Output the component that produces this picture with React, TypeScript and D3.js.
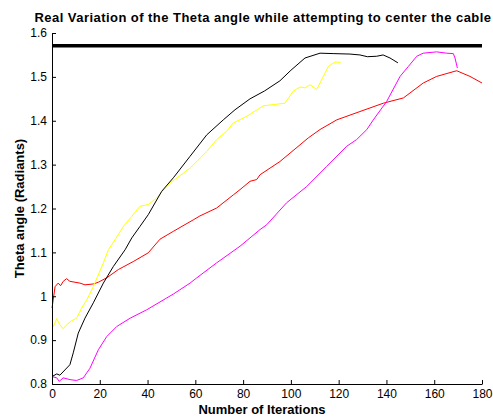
import * as d3 from "d3";
import { useEffect, useRef } from "react";

const blackX = [0, 2, 3.3, 7.5, 8.9, 11, 13.8, 17.3, 21.5, 25.7, 30.6, 33.4, 36.8, 40.3, 45.9, 50.8, 57.8, 64.8, 71.7, 76.6, 82.9, 89, 95.4, 100, 105.9, 112.2, 118, 124.7, 128.9, 132, 135.9, 138.6, 141.5, 144.8];
const blackY = [0.817, 0.823, 0.82, 0.844, 0.871, 0.916, 0.95, 0.985, 1.03, 1.068, 1.106, 1.133, 1.159, 1.186, 1.239, 1.27, 1.319, 1.368, 1.402, 1.425, 1.45, 1.468, 1.491, 1.515, 1.543, 1.554, 1.553, 1.552, 1.55, 1.546, 1.547, 1.55, 1.543, 1.532];

const yellowX = [0, 0.5, 2, 3.3, 4.7, 6.1, 8.2, 10.3, 12.4, 14.5, 17.3, 21.5, 23.6, 26.4, 30, 33.4, 36.8, 40.3, 43.8, 49.4, 57.8, 64.8, 68.9, 73.1, 75.9, 81.5, 88.4, 93, 97.5, 100.9, 103.8, 105.9, 108, 110.8, 112.9, 115.7, 118.5, 120.8];
const yellowY = [0.93, 0.931, 0.949, 0.935, 0.926, 0.935, 0.944, 0.95, 0.973, 0.991, 1.022, 1.076, 1.106, 1.129, 1.16, 1.182, 1.205, 1.209, 1.224, 1.258, 1.292, 1.33, 1.357, 1.376, 1.395, 1.41, 1.434, 1.437, 1.44, 1.467, 1.477, 1.475, 1.482, 1.471, 1.494, 1.524, 1.534, 1.533];

const redX = [0, 1.3, 2.6, 3.6, 4.7, 6.1, 7.5, 11.7, 13.8, 17.3, 19.4, 22.9, 27.8, 34, 40.3, 45.2, 50.8, 59.1, 61.9, 68.9, 75.9, 78.7, 82.9, 85.7, 87.1, 95.4, 103.8, 107.3, 112.2, 119.2, 128.9, 138.7, 147.1, 155.4, 161, 169.4, 175, 180];
const redY = [0.973, 1.022, 1.03, 1.024, 1.034, 1.04, 1.034, 1.03, 1.026, 1.028, 1.032, 1.042, 1.061, 1.079, 1.099, 1.13, 1.148, 1.174, 1.183, 1.201, 1.231, 1.243, 1.262, 1.266, 1.277, 1.307, 1.345, 1.361, 1.38, 1.402, 1.421, 1.44, 1.452, 1.486, 1.501, 1.514, 1.501, 1.486];

const magentaX = [0, 2, 3, 4.7, 7.5, 10.3, 13.1, 15.9, 19.4, 22.9, 27.1, 32.7, 39.6, 48, 50.8, 57.8, 60.6, 68.9, 78.7, 87.1, 89.9, 98.2, 106.6, 115, 123.4, 127.5, 131.8, 134.5, 140.1, 145.7, 149.2, 152.7, 155.4, 161, 165.2, 168, 168.7, 169.7];
const magentaY = [0.817, 0.814, 0.806, 0.814, 0.81, 0.808, 0.814, 0.836, 0.878, 0.908, 0.931, 0.95, 0.969, 0.996, 1.005, 1.03, 1.042, 1.076, 1.114, 1.152, 1.163, 1.213, 1.25, 1.296, 1.342, 1.357, 1.38, 1.402, 1.444, 1.501, 1.524, 1.547, 1.554, 1.557, 1.554, 1.553, 1.543, 1.52];

const xTicks = [0, 20, 40, 60, 80, 100, 120, 140, 160, 180];
const yTicks = [0.8, 0.9, 1, 1.1, 1.2, 1.3, 1.4, 1.5, 1.6];
const refLevel = Math.PI / 2;

const series = [
  { xs: redX, ys: redY, color: "#ff0000" },
  { xs: magentaX, ys: magentaY, color: "#ff00ff" },
  { xs: yellowX, ys: yellowY, color: "#ffff00" },
  { xs: blackX, ys: blackY, color: "#000000" },
];

const W = 493;
const H = 417;
const FONT = "'Liberation Sans', Arial, sans-serif";

export default function App() {
  const ref = useRef<SVGSVGElement | null>(null);

  useEffect(() => {
    if (!ref.current) return;
    const margin = { top: 33, right: 11, bottom: 33, left: 52 };
    const innerW = W - margin.left - margin.right;
    const innerH = H - margin.top - margin.bottom;

    const x = d3.scaleLinear().domain([0, 180]).range([0, innerW]);
    const y = d3.scaleLinear().domain([0.8, 1.6]).range([innerH, 0]);

    const svg = d3.select(ref.current);
    svg.selectAll("*").remove();
    const g = svg.append("g").attr("transform", `translate(${margin.left},${margin.top})`);

    const line = d3
      .line<[number, number]>()
      .x((d) => x(d[0]))
      .y((d) => y(d[1]));

    series.forEach((s) => {
      const pts = s.xs.map((v, i) => [v, s.ys[i]] as [number, number]);
      g.append("path")
        .datum(pts)
        .attr("fill", "none")
        .attr("stroke", s.color)
        .attr("stroke-width", 1)
        .attr("d", line);
    });

    g.append("path")
      .datum([[0, refLevel], [180, refLevel]] as [number, number][])
      .attr("fill", "none")
      .attr("stroke", "#000")
      .attr("stroke-width", 3.5)
      .attr("d", line);

    const xAxis = g
      .append("g")
      .attr("transform", `translate(0,${innerH})`)
      .call(d3.axisBottom(x).tickValues(xTicks).tickSizeInner(-4).tickSizeOuter(0).tickPadding(5).tickFormat((v) => String(v)));
    const yAxis = g
      .append("g")
      .call(d3.axisLeft(y).tickValues(yTicks).tickSizeInner(-4).tickSizeOuter(0).tickPadding(5).tickFormat((v) => String(v)));

    [xAxis, yAxis].forEach((a) => {
      a.selectAll("text").style("font-family", FONT).style("font-size", "12px").style("fill", "#000");
      a.selectAll(".domain, .tick line").style("stroke", "#000");
    });

    svg
      .append("text")
      .attr("x", 263)
      .attr("y", 22)
      .attr("text-anchor", "middle")
      .style("font-family", FONT)
      .style("font-weight", "bold")
      .style("font-size", "13px")
      .style("letter-spacing", "0.45px")
      .text("Real Variation of the Theta angle while attempting to center the cable");

    svg
      .append("text")
      .attr("x", margin.left + innerW / 2 - 5)
      .attr("y", 414)
      .attr("text-anchor", "middle")
      .style("font-family", FONT)
      .style("font-weight", "bold")
      .style("font-size", "13px")
      .text("Number of Iterations");

    svg
      .append("text")
      .attr("transform", `translate(24,${margin.top + innerH / 2}) rotate(-90)`)
      .attr("text-anchor", "middle")
      .style("font-family", FONT)
      .style("font-weight", "bold")
      .style("font-size", "13px")
      .text("Theta angle (Radiants)");
  }, []);

  return (
    <svg
      ref={ref}
      width={W}
      height={H}
      style={{ position: "absolute", left: 0, top: 0, background: "#fff" }}
    />
  );
}
